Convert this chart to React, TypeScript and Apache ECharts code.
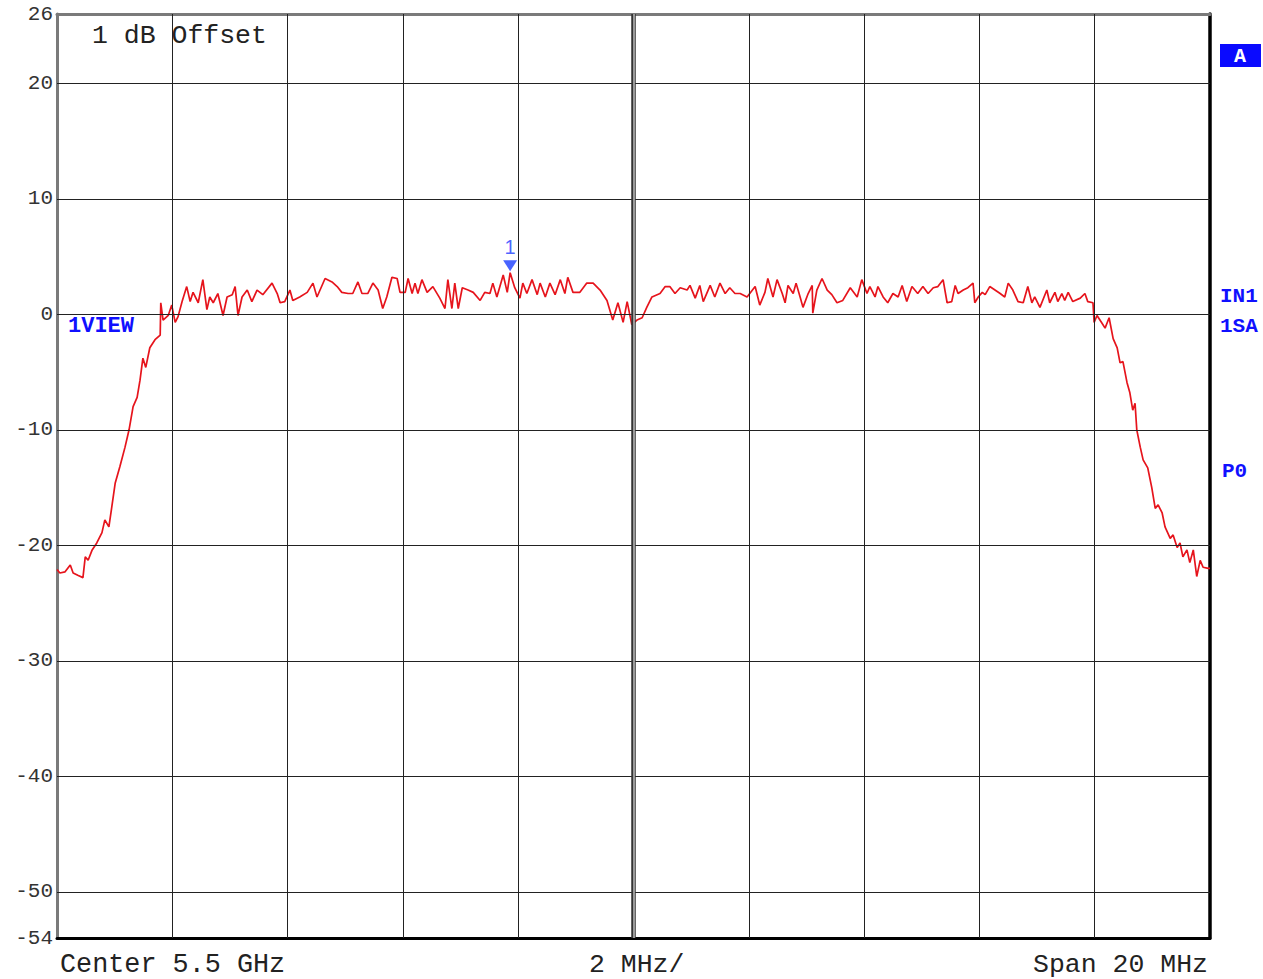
import React, { useEffect, useRef } from "react";
import * as echarts from "echarts";

// Frequency offset from 5.5 GHz centre, in MHz
const freqMHz = [
  -10.0, -9.95, -9.86, -9.77, -9.72, -9.64, -9.55, -9.51, -9.46, -9.39, -9.31, -9.22, -9.17, -9.1, -9.05,
  -8.99, -8.91, -8.82, -8.75, -8.68, -8.61, -8.56, -8.51, -8.46, -8.39, -8.3, -8.21, -8.2, -8.16, -8.07,
  -8.01, -7.95, -7.9, -7.83, -7.75, -7.69, -7.64, -7.55, -7.47, -7.4, -7.35, -7.29, -7.21, -7.12, -7.05,
  -6.96, -6.91, -6.86, -6.79, -6.7, -6.62, -6.53, -6.43, -6.27, -6.18, -6.13, -6.05, -5.96, -5.91, -5.79,
  -5.66, -5.56, -5.49, -5.35, -5.23, -5.14, -5.06, -4.95,
  -4.87, -4.78, -4.71, -4.61, -4.52, -4.43, -4.35, -4.28, -4.19, -4.1, -4.05, -3.96, -3.91, -3.84, -3.79,
  -3.74, -3.67, -3.58, -3.48, -3.36, -3.27, -3.22, -3.15, -3.1, -3.04, -2.97, -2.87, -2.78, -2.66, -2.58,
  -2.49, -2.44, -2.37, -2.26, -2.19, -2.14, -2.06, -1.97, -1.92, -1.85, -1.76, -1.67, -1.62, -1.53, -1.45,
  -1.36, -1.27, -1.19, -1.14, -1.05, -0.93, -0.81, -0.7, -0.58, -0.46, -0.36, -0.27, -0.18, -0.11, -0.03,
  0.06, 0.15, 0.23, 0.32, 0.41,
  0.46, 0.55, 0.63, 0.72, 0.81, 0.93, 0.98, 1.07, 1.15, 1.21, 1.33, 1.41, 1.5, 1.59, 1.67, 1.76, 1.85,
  1.97, 2.11, 2.19, 2.28, 2.33, 2.42, 2.49, 2.58, 2.63, 2.68, 2.77, 2.82, 2.89, 2.94, 3.03, 3.1, 3.11,
  3.18, 3.27, 3.36, 3.44, 3.53, 3.63, 3.76, 3.88, 3.96, 4.05, 4.1, 4.19, 4.24, 4.33, 4.41, 4.5, 4.59,
  4.66, 4.74, 4.83, 4.93, 5.02, 5.11, 5.2, 5.28, 5.37, 5.44, 5.52, 5.58,
  5.63, 5.72, 5.8, 5.89, 5.92, 5.98, 6.05, 6.1, 6.18, 6.27, 6.36, 6.44, 6.5, 6.58, 6.67, 6.76, 6.84,
  6.91, 6.96, 7.05, 7.17, 7.22, 7.31, 7.36, 7.43, 7.48, 7.54, 7.62, 7.75, 7.83, 7.88, 7.97, 7.99, 8.04,
  8.13, 8.18, 8.25, 8.32, 8.39, 8.44, 8.49, 8.56, 8.61, 8.66, 8.7, 8.73, 8.79, 8.84, 8.92, 8.99, 9.05,
  9.1, 9.17, 9.22, 9.31, 9.36, 9.43, 9.48, 9.53, 9.6, 9.65, 9.71, 9.77, 9.83, 9.88, 9.97, 10.0,
];

// Trace level, dB
const levelDb = [
  -22.1, -22.4, -22.3, -21.7, -22.4, -22.6, -22.8, -21.0, -21.3, -20.4, -19.8, -18.9, -17.8, -18.4, -16.7,
  -14.6, -13.2, -11.5, -10.0, -8.0, -7.2, -5.7, -3.8, -4.6, -2.9, -2.2, -1.8, 1.0, -0.5, -0.1,
  0.8, -0.7, -0.2, 1.1, 2.4, 1.1, 1.9, 1.0, 3.0, 0.4, 1.5, 1.0, 1.8, -0.1, 1.5,
  1.7, 2.4, -0.1, 1.5, 2.1, 1.1, 2.1, 1.7, 2.7, 1.8, 1.0, 1.1, 2.1, 1.2, 1.5,
  1.9, 2.7, 1.5, 3.1, 2.8, 2.4, 1.9, 1.8,
  1.8, 2.8, 1.8, 1.8, 2.7, 2.1, 0.5, 1.5, 3.2, 3.1, 1.9, 1.9, 3.1, 1.8, 2.7,
  1.8, 3.0, 1.9, 2.4, 1.4, 0.5, 3.0, 0.5, 2.7, 0.5, 2.3, 2.1, 1.9, 1.2, 1.9,
  1.8, 2.7, 1.5, 3.4, 1.9, 3.6, 2.3, 1.4, 2.7, 1.8, 3.0, 1.7, 2.7, 1.5, 2.7,
  1.7, 3.0, 1.8, 3.2, 1.9, 1.9, 2.7, 2.7, 2.1, 1.2, -0.5, 1.0, -0.7, 1.1, -0.9,
  -0.5, -0.3, 0.6, 1.5, 1.7,
  1.8, 2.4, 2.4, 1.8, 2.3, 2.1, 2.5, 1.4, 2.5, 1.1, 2.5, 1.5, 2.7, 1.8, 2.3, 1.8, 1.8,
  1.5, 2.4, 0.8, 1.9, 3.1, 1.5, 3.0, 1.8, 1.0, 2.5, 1.8, 2.7, 1.5, 0.6, 1.8, 2.5, 0.1,
  2.1, 3.1, 2.1, 1.7, 1.0, 1.2, 2.3, 1.5, 3.0, 1.8, 2.4, 1.5, 2.4, 1.5, 1.0, 1.8, 1.5,
  2.5, 1.1, 2.4, 1.8, 2.4, 1.8, 2.3, 2.4, 3.0, 1.0, 1.1, 2.5,
  1.8, 2.1, 2.3, 2.7, 1.0, 1.5, 1.9, 1.7, 2.4, 2.1, 1.8, 1.5, 2.7, 2.1, 1.1, 1.0, 2.4,
  1.0, 1.5, 0.6, 2.1, 1.0, 1.9, 1.1, 1.8, 1.2, 1.9, 1.1, 1.4, 1.8, 1.1, 1.0, -0.7, -0.1,
  -0.8, -1.2, -0.3, -2.1, -2.9, -4.2, -4.1, -5.9, -6.8, -8.3, -7.7, -10.0, -11.5, -12.6, -13.3, -15.0, -16.8,
  -16.5, -17.2, -18.4, -19.4, -19.1, -20.2, -19.8, -21.0, -20.4, -21.5, -20.4, -22.7, -21.3, -21.9, -22.0, -22.0,
];

const yTickLabels = [26, 20, 10, 0, -10, -20, -30, -40, -50, -54];
const yGridLines = [20, 10, 0, -10, -20, -30, -40, -50];
const xGridLines = [-8, -6, -4, -2, 2, 4, 6, 8];
const markerPoint = [-2.14, 4.2];
const markerLabel = "1";

const mono = '"Liberation Mono", "DejaVu Sans Mono", monospace';

export default function App() {
  const ref = useRef<HTMLDivElement>(null);

  useEffect(() => {
    if (!ref.current) return;
    const chart = echarts.init(ref.current, null, { renderer: "svg" });
    const trace = freqMHz.map((f, i) => [f, levelDb[i]]);

    const gridLineStyle = { color: "#222", width: 1, type: "solid" as const };

    chart.setOption({
      animation: false,
      backgroundColor: "#fff",
      grid: { left: 57, right: 53, top: 14, bottom: 41, containLabel: false },
      xAxis: [
        {
          type: "value",
          min: -10,
          max: 10,
          interval: 2,
          position: "bottom",
          axisLine: { show: true, onZero: false, lineStyle: { color: "#000", width: 3 } },
          axisTick: { show: false },
          axisLabel: { show: false },
          splitLine: { show: false },
        },
        {
          type: "value",
          min: -10,
          max: 10,
          interval: 2,
          position: "top",
          axisLine: { show: true, onZero: false, lineStyle: { color: "#7a7a7a", width: 3 } },
          axisTick: { show: false },
          axisLabel: { show: false },
          splitLine: { show: false },
        },
      ],
      yAxis: [
        {
          type: "value",
          min: -54,
          max: 26,
          position: "left",
          axisLine: { show: true, onZero: false, lineStyle: { color: "#7a7a7a", width: 3 } },
          axisTick: { show: false },
          splitLine: { show: false },
          axisLabel: {
            show: true,
            customValues: yTickLabels,
            margin: 4,
            color: "#333",
            fontFamily: mono,
            fontSize: 21,
          },
        },
        {
          type: "value",
          min: -54,
          max: 26,
          position: "right",
          axisLine: { show: true, onZero: false, lineStyle: { color: "#000", width: 3.5 } },
          axisTick: { show: false },
          axisLabel: { show: false },
          splitLine: { show: false },
        },
      ],
      series: [
        {
          type: "line",
          name: "grid",
          z: 1,
          silent: true,
          data: [],
          showSymbol: false,
          markLine: {
            silent: true,
            symbol: "none",
            label: { show: false },
            lineStyle: gridLineStyle,
            emphasis: { disabled: true },
            data: [
              ...yGridLines.map((v) => ({ yAxis: v })),
              ...xGridLines.map((v) => ({ xAxis: v })),
              { xAxis: 0, lineStyle: { color: "#333", width: 4.5, type: "solid" } },
              { xAxis: 0, lineStyle: { color: "#9a9a9a", width: 2, type: "solid" } },
            ],
          },
        },
        {
          type: "line",
          name: "trace",
          z: 3,
          data: trace,
          showSymbol: false,
          symbol: "none",
          lineStyle: { color: "#e6141c", width: 1.7 },
          silent: true,
        },
        {
          type: "scatter",
          name: "marker",
          z: 4,
          data: [markerPoint],
          symbol: "triangle",
          symbolRotate: 180,
          symbolSize: [14, 11],
          itemStyle: { color: "#1a3cff" },
          silent: true,
          label: {
            show: true,
            position: "top",
            distance: 3,
            formatter: markerLabel,
            color: "#1a3cff",
            fontSize: 20,
            fontFamily: '"Liberation Sans", "DejaVu Sans", sans-serif',
          },
        },
      ],
      graphic: [
        {
          type: "text",
          x: 92,
          y: 36,
          style: { text: "1 dB Offset", fill: "#222", fontFamily: mono, fontSize: 26.5, verticalAlign: "middle", align: "left" },
        },
        {
          type: "text",
          x: 60,
          y: 965,
          style: { text: "Center 5.5 GHz", fill: "#222", fontFamily: mono, fontSize: 26.8, verticalAlign: "middle", align: "left" },
        },
        {
          type: "text",
          x: 589,
          y: 965,
          style: { text: "2 MHz/", fill: "#222", fontFamily: mono, fontSize: 26.5, verticalAlign: "middle", align: "left" },
        },
        {
          type: "text",
          x: 1208,
          y: 965,
          style: { text: "Span 20 MHz", fill: "#222", fontFamily: mono, fontSize: 26.5, verticalAlign: "middle", align: "right" },
        },
        {
          type: "text",
          x: 68,
          y: 326,
          style: { text: "1VIEW", fill: "#1010ff", fontFamily: mono, fontWeight: "bold", fontSize: 22, verticalAlign: "middle", align: "left" },
        },
        {
          type: "rect",
          shape: { x: 1220, y: 44, width: 41, height: 23 },
          style: { fill: "#0a0aff" },
        },
        {
          type: "text",
          x: 1240,
          y: 56,
          style: { text: "A", fill: "#fff", fontFamily: mono, fontWeight: "bold", fontSize: 20, verticalAlign: "middle", align: "center" },
        },
        {
          type: "text",
          x: 1220,
          y: 296,
          style: { text: "IN1", fill: "#1010ff", fontFamily: mono, fontWeight: "bold", fontSize: 21, verticalAlign: "middle", align: "left" },
        },
        {
          type: "text",
          x: 1220,
          y: 326,
          style: { text: "1SA", fill: "#1010ff", fontFamily: mono, fontWeight: "bold", fontSize: 21, verticalAlign: "middle", align: "left" },
        },
        {
          type: "text",
          x: 1222,
          y: 471,
          style: { text: "P0", fill: "#1010ff", fontFamily: mono, fontWeight: "bold", fontSize: 21, verticalAlign: "middle", align: "left" },
        },
      ],
    });

    return () => chart.dispose();
  }, []);

  return (
    <div
      ref={ref}
      style={{ position: "absolute", left: 0, top: 0, width: 1263, height: 979, background: "#fff" }}
    />
  );
}
